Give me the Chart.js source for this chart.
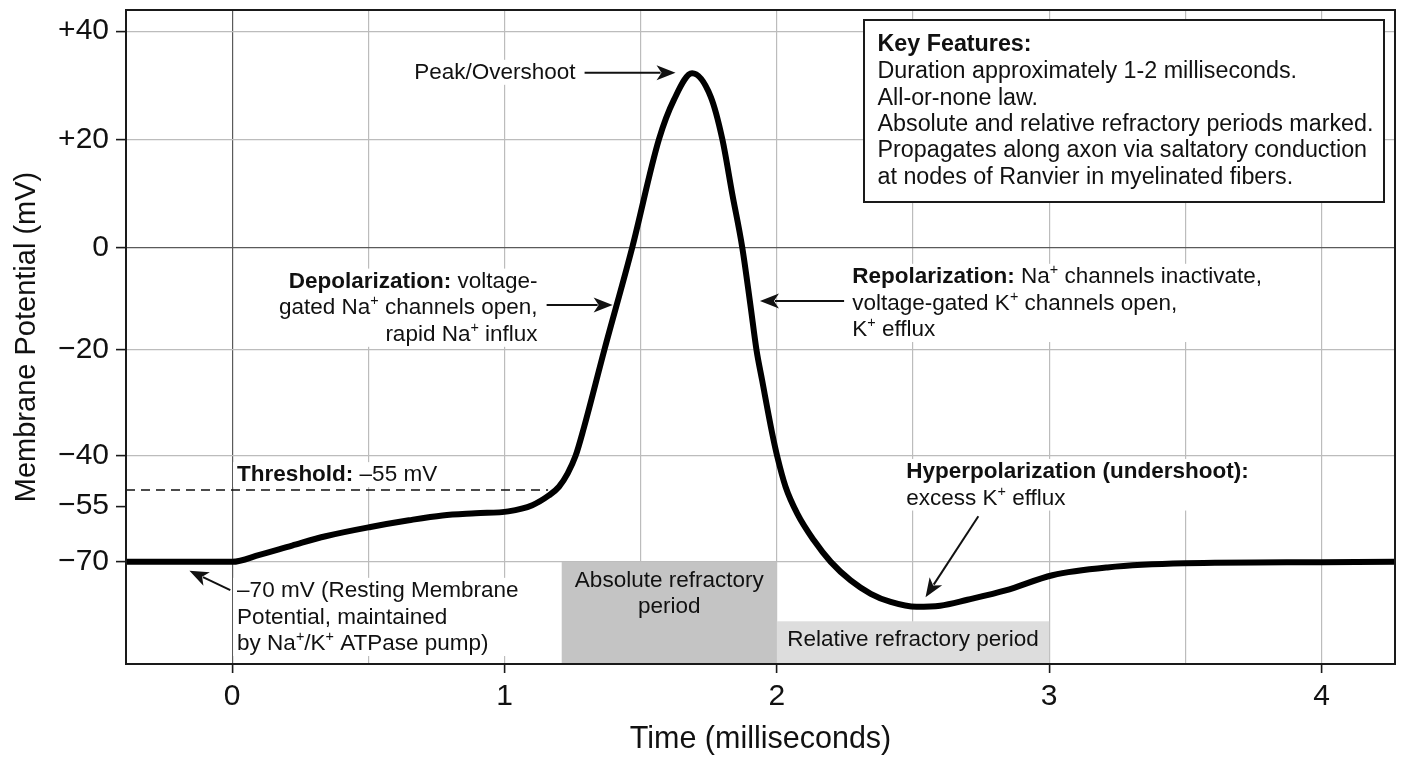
<!DOCTYPE html>
<html>
<head>
<meta charset="utf-8">
<title>Action Potential</title>
<script src="https://cdn.jsdelivr.net/npm/chart.js@4/dist/chart.umd.min.js"></script>
<style>
  html, body { margin: 0; padding: 0; background: #ffffff; }
  #wrap { width: 1408px; height: 768px; }
</style>
</head>
<body>
<div id="wrap"><canvas id="chart" width="1408" height="768"></canvas></div>
<script>
// ---------------- DATA ----------------
const timeMs = [-0.39, -0.2, 0, 0.1, 0.22, 0.343, 0.508, 0.649, 0.772, 0.894, 1.014, 1.102, 1.163, 1.2, 1.232, 1.261, 1.291, 1.367, 1.469, 1.567, 1.622, 1.689, 1.757, 1.80, 1.836, 1.873, 1.903, 1.925, 1.946, 1.983, 2.001, 2.032, 2.075, 2.136, 2.198, 2.271, 2.345, 2.418, 2.513, 2.60, 2.70, 2.84, 3.012, 3.214, 3.497, 4.0, 4.27];
const potentialMv = [-70, -70, -70, -68.1, -65.6, -63.1, -60.6, -58.8, -57.5, -56.9, -56.4, -54.7, -51.8, -49.2, -45.2, -40, -34.8, -20, 0, 20, 27.3, 32.2, 27.9, 20, 10, 0, -11.3, -20, -25.8, -35.8, -40, -49.2, -57.0, -64.2, -70, -75.0, -78.6, -80.8, -82.1, -81.8, -80.2, -77.7, -73.6, -71.5, -70.4, -70.1, -70];
const thresholdTimeMs = [-0.39, 1.16];
const thresholdMv = [-50.2, -50.2];
const xTickValues = [0, 0.5, 1, 1.5, 2, 2.5, 3, 3.5, 4];
const yTickValues = [40, 20, 0, -20, -40, -55, -70];
const yTickLabels = ['+40', '+20', '0', '\u221220', '\u221240', '\u221255', '\u221270'];
const absoluteRefractoryMs = [1.21, 2.0];
const absoluteRefractoryTopMv = -70;
const relativeRefractoryMs = [2.0, 3.0];
const relativeRefractoryTopMv = -86;
const keyFeatures = [
  'Duration approximately 1-2 milliseconds.',
  'All-or-none law.',
  'Absolute and relative refractory periods marked.',
  'Propagates along axon via saltatory conduction',
  'at nodes of Ranvier in myelinated fibers.'
];

// ------------- printed (non-uniform) y-axis spacing -------------
const yKnotValues = [-70, -55, -40, -20, 0, 20, 40];
const yKnotGaps = [55.7, 50.3, 106.4, 102, 108, 108.3];
const yKnotCum = [0];
yKnotGaps.forEach((g, i) => yKnotCum.push(yKnotCum[i] + g));
function warp(v) {
  const n = yKnotValues.length;
  if (v <= yKnotValues[0]) return (v - yKnotValues[0]) * yKnotGaps[0] / (yKnotValues[1] - yKnotValues[0]);
  if (v >= yKnotValues[n - 1]) return yKnotCum[n - 1] + (v - yKnotValues[n - 1]) * yKnotGaps[n - 2] / (yKnotValues[n - 1] - yKnotValues[n - 2]);
  for (let i = 0; i < n - 1; i++) {
    if (v <= yKnotValues[i + 1]) {
      return yKnotCum[i] + (v - yKnotValues[i]) / (yKnotValues[i + 1] - yKnotValues[i]) * yKnotGaps[i];
    }
  }
}
function unwarp(w) {
  const n = yKnotValues.length;
  if (w <= 0) return yKnotValues[0] + w * (yKnotValues[1] - yKnotValues[0]) / yKnotGaps[0];
  if (w >= yKnotCum[n - 1]) return yKnotValues[n - 1] + (w - yKnotCum[n - 1]) * (yKnotValues[n - 1] - yKnotValues[n - 2]) / yKnotGaps[n - 2];
  for (let i = 0; i < n - 1; i++) {
    if (w <= yKnotCum[i + 1]) {
      return yKnotValues[i] + (w - yKnotCum[i]) / yKnotGaps[i] * (yKnotValues[i + 1] - yKnotValues[i]);
    }
  }
}
class WarpScale extends Chart.LinearScale {
  getPixelForValue(value) {
    const a = warp(this.min), b = warp(this.max);
    return this.getPixelForDecimal((warp(value) - a) / (b - a));
  }
  getValueForPixel(pixel) {
    const a = warp(this.min), b = warp(this.max);
    return unwarp(a + this.getDecimalForPixel(pixel) * (b - a));
  }
}
WarpScale.id = 'warp';
WarpScale.defaults = {};
Chart.register(WarpScale);

// ---------------- DRAWING HELPERS ----------------
const FONT = "'Liberation Sans', Arial, Helvetica, sans-serif";
const TEXT = '#111111';
const ANN = 22.5;
const LINE_H = 26.6;

function segFont(style, size) {
  if (style === 's') return (size * 0.64).toFixed(2) + 'px ' + FONT;
  return (style === 'b' ? 'bold ' : '') + size + 'px ' + FONT;
}
function lineWidth(ctx, segs, size) {
  let w = 0;
  segs.forEach(([t, s]) => { ctx.font = segFont(s, size); w += ctx.measureText(t).width; });
  return w;
}
function drawLine(ctx, segs, x, y, size) {
  segs.forEach(([t, s]) => {
    ctx.font = segFont(s, size);
    ctx.fillText(t, x, s === 's' ? y - size * 0.3 : y);
    x += ctx.measureText(t).width;
  });
}
function labelBox(ctx, lbl, px, py) {
  const size = lbl.size || ANN;
  const widths = lbl.lines.map(l => lineWidth(ctx, l, size));
  const maxW = Math.max(...widths);
  let left = px;
  if (lbl.align === 'right') left = px - maxW;
  if (lbl.align === 'center') left = px - maxW / 2;
  return { left, right: left + maxW, top: py - 13, bottom: py + (lbl.lines.length - 1) * LINE_H + 12, widths, maxW };
}
function drawArrow(ctx, x1, y1, x2, y2) {
  const ang = Math.atan2(y2 - y1, x2 - x1);
  const hl = 19, hw = 7.5;
  ctx.save();
  ctx.strokeStyle = TEXT; ctx.fillStyle = TEXT; ctx.lineWidth = 2;
  ctx.beginPath();
  ctx.moveTo(x1, y1);
  ctx.lineTo(x2 - Math.cos(ang) * (hl - 4), y2 - Math.sin(ang) * (hl - 4));
  ctx.stroke();
  ctx.translate(x2, y2); ctx.rotate(ang);
  ctx.beginPath();
  ctx.moveTo(0, 0);
  ctx.lineTo(-hl, -hw);
  ctx.lineTo(-hl + 5, 0);
  ctx.lineTo(-hl, hw);
  ctx.closePath();
  ctx.fill();
  ctx.restore();
}

// annotation labels (anchored in data coordinates)
const labels = [
  { x: 1.261, y: 32.3, align: 'right', lines: [[['Peak/Overshoot', 'n']]] },
  { x: 1.1215, y: -6.7, align: 'right', lines: [
    [['Depolarization: ', 'b'], ['voltage-', 'n']],
    [['gated Na', 'n'], ['+', 's'], [' channels open,', 'n']],
    [['rapid Na', 'n'], ['+', 's'], [' influx', 'n']]
  ] },
  { x: 2.277, y: -5.76, align: 'left', lines: [
    [['Repolarization: ', 'b'], ['Na', 'n'], ['+', 's'], [' channels inactivate,', 'n']],
    [['voltage-gated K', 'n'], ['+', 's'], [' channels open,', 'n']],
    [['K', 'n'], ['+', 's'], [' efflux', 'n']]
  ] },
  { x: 2.475, y: -44.8, align: 'left', lines: [
    [['Hyperpolarization (undershoot):', 'b']],
    [['excess K', 'n'], ['+', 's'], [' efflux', 'n']]
  ] },
  { x: 0.018, y: -45.75, align: 'left', lines: [[['Threshold: ', 'b'], ['\u201355 mV', 'n']]] },
  { x: 0.018, y: -77.8, align: 'left', lines: [
    [['\u201370 mV (Resting Membrane', 'n']],
    [['Potential, maintained', 'n']],
    [['by Na', 'n'], ['+', 's'], ['/K', 'n'], ['+', 's'], [' ATPase pump)', 'n']]
  ] }
];
const boxLabels = [
  { x: 1.605, y: -75.0, align: 'center', lines: [[['Absolute refractory', 'n']], [['period', 'n']]] },
  { x: 2.5, y: -91.1, align: 'center', lines: [[['Relative refractory period', 'n']]] }
];
const arrows = [
  [1.294, 32.3, 1.628, 32.3],
  [1.1546, -11.3, 1.397, -11.3],
  [2.247, -10.5, 1.938, -10.5],
  [2.740, -57.7, 2.546, -79.5],
  [-0.007, -77.6, -0.157, -72.4]
];

const annotationPlugin = {
  id: 'annotations',
  beforeDatasetsDraw(chart) {
    const { ctx, chartArea: a, scales: { x, y } } = chart;
    ctx.save();
    // refractory period boxes
    let x1 = x.getPixelForValue(absoluteRefractoryMs[0]), x2 = x.getPixelForValue(absoluteRefractoryMs[1]);
    let yt = y.getPixelForValue(absoluteRefractoryTopMv);
    ctx.fillStyle = '#c4c4c4';
    ctx.fillRect(x1, yt, x2 - x1, a.bottom - yt);
    x1 = x.getPixelForValue(relativeRefractoryMs[0]); x2 = x.getPixelForValue(relativeRefractoryMs[1]);
    yt = y.getPixelForValue(relativeRefractoryTopMv);
    ctx.fillStyle = '#dddddd';
    ctx.fillRect(x1, yt, x2 - x1, a.bottom - yt);
    // white label backgrounds
    ctx.fillStyle = '#ffffff';
    labels.forEach(l => {
      const b = labelBox(ctx, l, x.getPixelForValue(l.x), y.getPixelForValue(l.y));
      ctx.fillRect(b.left - 4, b.top, b.maxW + 8, b.bottom - b.top);
    });
    // key features box
    const kx = a.right - 11 - 520, ky = a.top + 10;
    ctx.fillRect(kx, ky, 520, 182);
    ctx.strokeStyle = '#1a1a1a'; ctx.lineWidth = 2;
    ctx.strokeRect(kx, ky, 520, 182);
    ctx.fillStyle = TEXT;
    ctx.textBaseline = 'middle'; ctx.textAlign = 'left';
    ctx.font = 'bold 23.3px ' + FONT;
    ctx.fillText('Key Features:', kx + 13.5, ky + 25);
    ctx.font = '23.3px ' + FONT;
    keyFeatures.forEach((t, i) => ctx.fillText(t, kx + 13.5, ky + 51.7 + i * 26.4));
    ctx.restore();
  },
  afterDatasetsDraw(chart) {
    const { ctx, scales: { x, y } } = chart;
    ctx.save();
    ctx.fillStyle = TEXT; ctx.textBaseline = 'middle'; ctx.textAlign = 'left';
    [...labels, ...boxLabels].forEach(l => {
      const px = x.getPixelForValue(l.x), py = y.getPixelForValue(l.y);
      const b = labelBox(ctx, l, px, py);
      l.lines.forEach((line, i) => {
        let lx = b.left;
        if (l.align === 'right') lx = px - b.widths[i];
        if (l.align === 'center') lx = px - b.widths[i] / 2;
        ctx.fillStyle = TEXT;
        drawLine(ctx, line, lx, py + i * LINE_H, l.size || ANN);
      });
    });
    arrows.forEach(([ax1, ay1, ax2, ay2]) => {
      drawArrow(ctx, x.getPixelForValue(ax1), y.getPixelForValue(ay1), x.getPixelForValue(ax2), y.getPixelForValue(ay2));
    });
    ctx.restore();
  },
  afterDraw(chart) {
    const { ctx, chartArea: a } = chart;
    ctx.save();
    ctx.strokeStyle = '#1a1a1a'; ctx.lineWidth = 2;
    ctx.strokeRect(a.left, a.top, a.right - a.left, a.bottom - a.top);
    ctx.restore();
  }
};

// ---------------- CHART ----------------
new Chart(document.getElementById('chart'), {
  type: 'line',
  data: {
    datasets: [
      {
        label: 'Membrane potential',
        data: timeMs.map((t, i) => ({ x: t, y: potentialMv[i] })),
        borderColor: '#000000',
        borderWidth: 6,
        pointRadius: 0,
        fill: false,
        cubicInterpolationMode: 'monotone',
        borderCapStyle: 'round',
        borderJoinStyle: 'round',
        order: 1
      },
      {
        label: 'Threshold',
        data: thresholdTimeMs.map((t, i) => ({ x: t, y: thresholdMv[i] })),
        borderColor: '#111111',
        borderWidth: 1.6,
        borderDash: [9, 6],
        pointRadius: 0,
        fill: false,
        order: 2
      }
    ]
  },
  options: {
    responsive: false,
    animation: false,
    layout: { padding: { top: 10, right: 13, left: 0, bottom: 0 } },
    plugins: { legend: { display: false }, tooltip: { enabled: false } },
    scales: {
      x: {
        type: 'linear',
        min: -0.39,
        max: 4.27,
        afterBuildTicks: s => { s.ticks = xTickValues.map(v => ({ value: v })); },
        afterFit: s => { s.height = 104; s.paddingLeft = 0; s.paddingRight = 0; },
        border: { display: false },
        grid: {
          color: c => (c.tick && c.tick.value === 0) ? '#5a5a5a' : '#bcbcbc',
          tickColor: c => (c.tick && Number.isInteger(c.tick.value)) ? '#1a1a1a' : 'rgba(0,0,0,0)',
          lineWidth: 1.2,
          tickWidth: 1.6,
          tickLength: 9
        },
        ticks: {
          autoSkip: false,
          maxRotation: 0,
          padding: 6,
          color: TEXT,
          font: { family: FONT, size: 30 },
          callback: v => Number.isInteger(v) ? String(v) : ''
        },
        title: {
          display: true,
          text: 'Time (milliseconds)',
          color: TEXT,
          font: { family: FONT, size: 30.5 },
          padding: { top: 0, bottom: 10 }
        }
      },
      y: {
        type: 'warp',
        min: -97.5,
        max: 43.9,
        afterBuildTicks: s => { s.ticks = yTickValues.map(v => ({ value: v })); },
        afterFit: s => { s.width = 126; s.paddingTop = 0; s.paddingBottom = 0; },
        border: { display: false },
        grid: {
          color: c => {
            if (!c.tick) return '#bcbcbc';
            if (c.tick.value === -55) return 'rgba(0,0,0,0)';
            return c.tick.value === 0 ? '#5a5a5a' : '#bcbcbc';
          },
          tickColor: '#1a1a1a',
          lineWidth: 1.2,
          tickWidth: 1.6,
          tickLength: 10
        },
        ticks: {
          autoSkip: false,
          padding: 7,
          color: TEXT,
          font: { family: FONT, size: 30 },
          callback: v => { const i = yTickValues.indexOf(v); return i >= 0 ? yTickLabels[i] : ''; }
        },
        title: {
          display: true,
          text: 'Membrane Potential (mV)',
          color: TEXT,
          font: { family: FONT, size: 29 },
          padding: { top: 10, bottom: 0 }
        }
      }
    }
  },
  plugins: [annotationPlugin]
});
</script>
</body>
</html>
